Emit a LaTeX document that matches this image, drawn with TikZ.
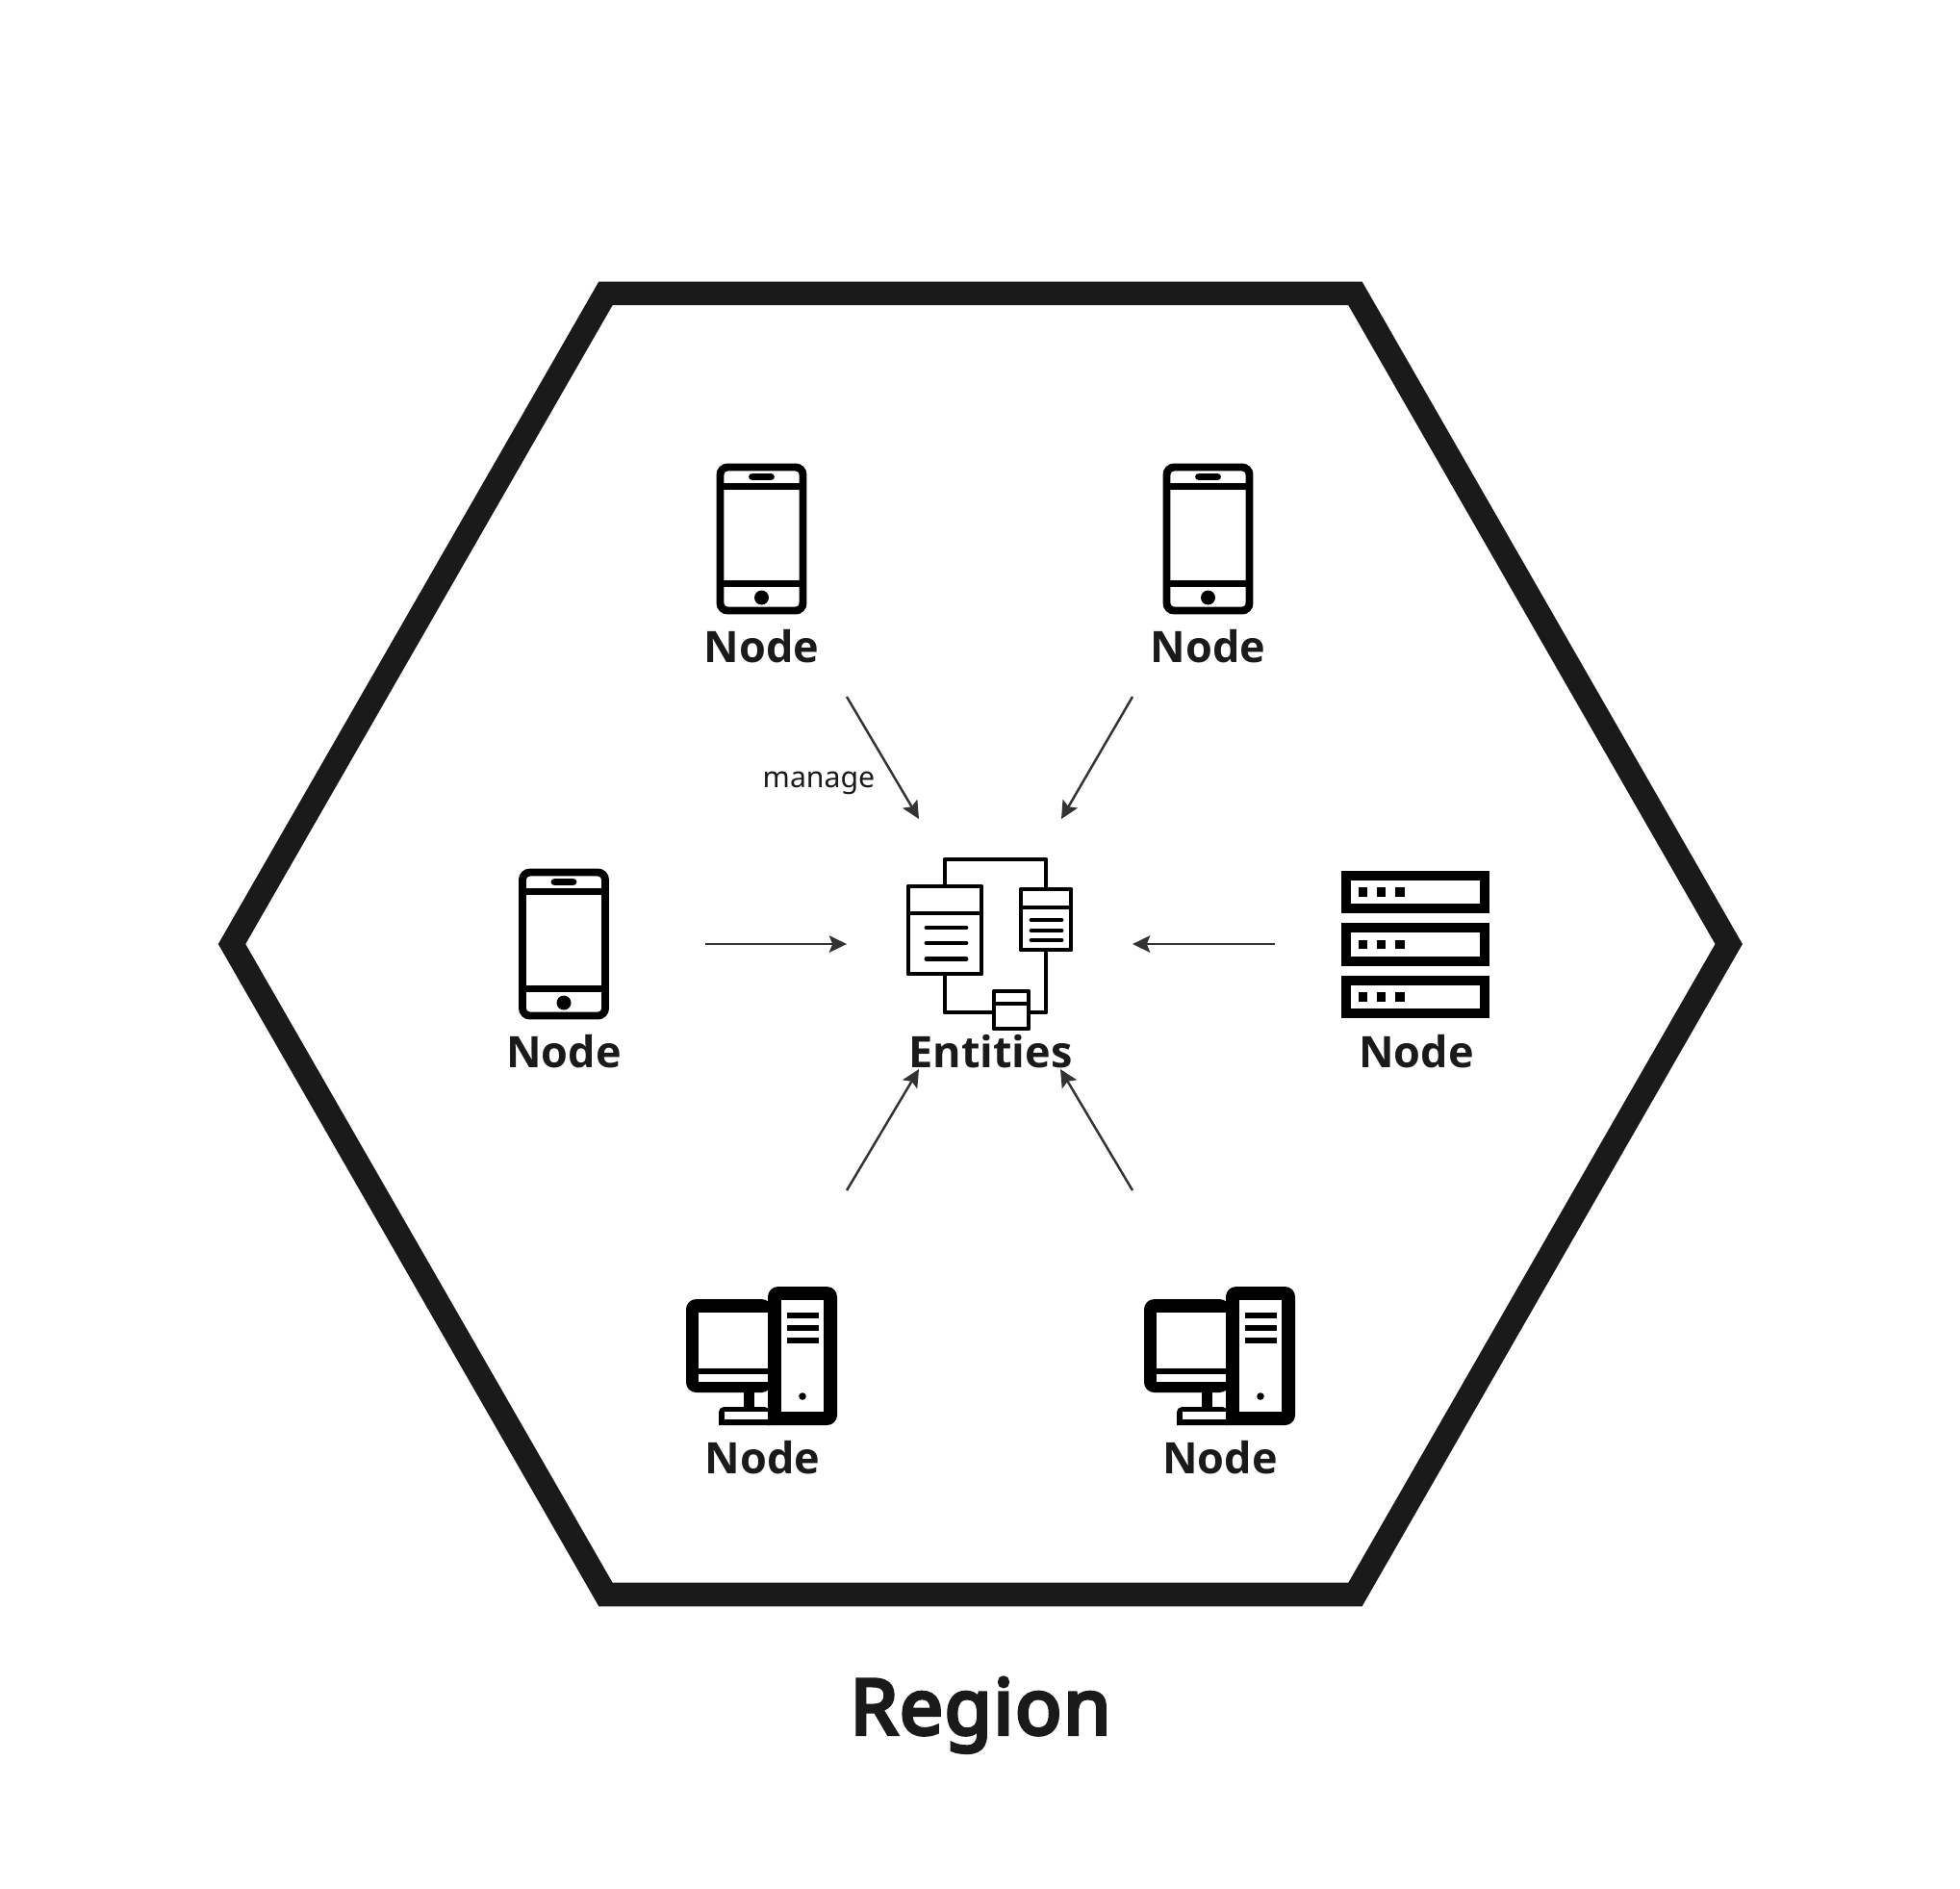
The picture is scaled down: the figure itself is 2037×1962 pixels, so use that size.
\documentclass[tikz,border=0pt]{standalone}
\usepackage{fontspec}
\setmainfont{Noto Sans}
\newfontfamily\labelfont{Open Sans}
\newfontfamily\titlefont{Noto Sans}[FakeBold=5,LetterSpace=2.5]
\usetikzlibrary{arrows.meta}
\definecolor{inkdark}{HTML}{1A1A1A}
\definecolor{arrowgrey}{HTML}{333333}
\tikzset{
  labeltext/.style={font=\labelfont\fontsize{12.8}{15}\selectfont\bfseries, text=inkdark, anchor=base, inner sep=0pt},
  flow/.style={draw=arrowgrey, line width=0.7pt, -{Stealth[length=5.2pt,width=5pt,inset=1pt]}},
  phone/.pic={
    \draw [black, line width=2.25pt, rounded corners=2.2pt] (-43,-74.5) rectangle (43,74.5);
    \draw [black, line width=2.25pt] (-43,-54.5) -- (43,-54.5);
    \draw [black, line width=2.25pt] (-43,46.5) -- (43,46.5);
    \draw [black, line width=2.25pt, line cap=round] (-9.5,-64.5) -- (9.5,-64.5);
    \fill [black] (0,61) circle (7.5);
  },
  rack/.pic={
    \foreach \rowy in {-54.5,0,54.5} {
      \draw [black, line width=2.8pt] (-72.25,\rowy-17.25) rectangle (72.25,\rowy+17.25);
      \foreach \dotx in {-54.5,-35.5,-16} {
        \fill [black] (\dotx-4.75,\rowy-4.75) rectangle (\dotx+4.75,\rowy+4.75);
      }
    }
  },
  desktop/.pic={
    \fill [black, rounded corners=3pt] (-79,-59) rectangle (10,38);
    \fill [white] (-66,-45) rectangle (7,13);
    \fill [white] (-66,19) rectangle (7,27);
    \fill [black] (-19,36) rectangle (-8,56);
    \fill [black] (-45,72) [rounded corners=1.5pt] -- (-45,53) -- (8,53) [sharp corners] -- (8,72) -- cycle;
    \fill [white] (-39,58) rectangle (7,66);
    \fill [black] (6,72) [rounded corners=3pt] -- (6,-72) -- (78,-72) -- (78,72) [sharp corners] -- cycle;
    \fill [white] (20,-58) rectangle (64,58);
    \foreach \liney in {-42,-29,-16} {
      \fill [black] (26,\liney-3.2) rectangle (59,\liney+3.2);
    }
    \fill [black] (42,42) circle (3.8);
  },
  box/.style={black, line width=1.4pt, line join=round},
  boxline/.style={black, line width=1.4pt, line cap=round},
}
\begin{document}
\begin{tikzpicture}[x=0.01cm, y=-0.01cm]
\useasboundingbox (0,0) rectangle (2037,1962);
\coordinate (hexl) at (241,981);
\coordinate (hextl) at (629.5,304.8);
\coordinate (hextr) at (1408.4,304.8);
\coordinate (hexr) at (1796.7,981);
\coordinate (hexbr) at (1408.4,1657);
\coordinate (hexbl) at (629.5,1657);
\draw [inkdark, line width=7pt, line join=miter] (hexl) -- (hextl) -- (hextr) -- (hexr) -- (hexbr) -- (hexbl) -- cycle;
\pic (phonea) at (791.5,560) {phone};
\pic (phoneb) at (1255.5,560) {phone};
\pic (phonec) at (586,981) {phone};
\pic (racka) at (1471,981.5) {rack};
\pic (deska) at (792,1409) {desktop};
\pic (deskb) at (1268,1409) {desktop};
\node [labeltext] (nodea) at (791.5,688) {Node};
\node [labeltext] (nodeb) at (1255.5,688) {Node};
\node [labeltext] (nodec) at (586,1109) {Node};
\node [labeltext] (noded) at (1472,1109) {Node};
\node [labeltext] (nodee) at (792.5,1531) {Node};
\node [labeltext] (nodef) at (1268,1531) {Node};
\node [labeltext] (entities) at (1029.5,1109) {Entities};
\node [labeltext, font=\titlefont\fontsize{22.6}{26}\selectfont] (region) at (1019,1802) {Region};
\node [font=\fontsize{8.6}{10}\selectfont, text=inkdark, anchor=base, inner sep=0pt] (manage) at (851,818) {manage};
\draw [box] (982,921) -- (982,893) -- (1087,893) -- (1087,924);
\draw [box] (982,1012) -- (982,1052) -- (1033,1052);
\draw [box] (1087,987) -- (1087,1052) -- (1069,1052);
\draw [box, fill=white] (944,921) rectangle (1020,1012);
\draw [box] (944,949) -- (1020,949);
\foreach \liney in {964,980,996.5} {
  \draw [boxline] (963,\liney) -- (1004,\liney);
}
\draw [box, fill=white] (1061,924) rectangle (1113,987);
\draw [box] (1061,943) -- (1113,943);
\foreach \liney in {956,967,977} {
  \draw [boxline] (1072,\liney) -- (1103,\liney);
}
\draw [box, fill=white] (1033,1030) rectangle (1069,1069);
\draw [box] (1033,1043) -- (1069,1043);
\coordinate (froma) at (880,724);
\coordinate (toa) at (955,851);
\coordinate (fromb) at (1177,724);
\coordinate (tob) at (1103,851);
\coordinate (fromc) at (733,981);
\coordinate (toc) at (880,981);
\coordinate (fromd) at (1325,981);
\coordinate (tod) at (1177,981);
\coordinate (frome) at (880,1237);
\coordinate (toe) at (955,1111);
\coordinate (fromf) at (1177,1237);
\coordinate (tof) at (1102,1111);
\draw [flow] (froma) -- (toa);
\draw [flow] (fromb) -- (tob);
\draw [flow] (fromc) -- (toc);
\draw [flow] (fromd) -- (tod);
\draw [flow] (frome) -- (toe);
\draw [flow] (fromf) -- (tof);
\end{tikzpicture}
\end{document}
